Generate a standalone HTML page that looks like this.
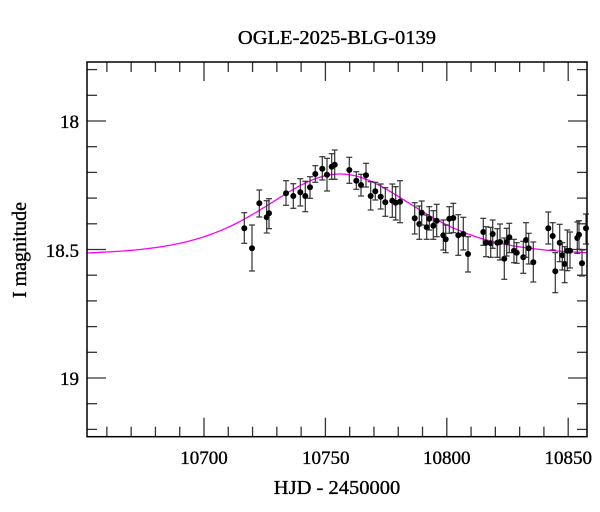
<!DOCTYPE html>
<html><head><meta charset="utf-8"><style>
html,body{margin:0;padding:0;background:#fff;}
svg{display:block;font-family:"Liberation Serif",serif;}
text{stroke:#000;stroke-width:0.35;}
</style></head><body>
<svg id="s" width="600" height="512" xmlns="http://www.w3.org/2000/svg">
<rect width="600" height="512" fill="#fff"/>
<text x="337" y="44" font-size="20.5" text-anchor="middle">OGLE-2025-BLG-0139</text>
<g id="ticks" stroke="#333" stroke-width="1.3"></g>
<path id="curve" fill="none" stroke="#ff00ff" stroke-width="1.3"/>
<g id="pts"></g>
<rect x="87" y="62" width="500" height="374.7" fill="none" stroke="#000" stroke-width="1.5"/>
<g font-size="19" text-anchor="end">
<text x="79" y="128">18</text>
<text x="79" y="257">18.5</text>
<text x="79" y="385">19</text>
</g>
<g font-size="19" text-anchor="middle">
<text x="204" y="464">10700</text>
<text x="325.7" y="464">10750</text>
<text x="446.7" y="464">10800</text>
<text x="568.3" y="464">10850</text>
<text x="337" y="494" font-size="20.5">HJD - 2450000</text>
</g>
<text font-size="20" text-anchor="middle" transform="translate(26,250) rotate(-90)">I magnitude</text>
<script>
var NS="http://www.w3.org/2000/svg";
function L(g,x1,y1,x2,y2,c,w){var l=document.createElementNS(NS,"line");l.setAttribute("x1",x1);l.setAttribute("y1",y1);l.setAttribute("x2",x2);l.setAttribute("y2",y2);if(c)l.setAttribute("stroke",c);if(w)l.setAttribute("stroke-width",w);g.appendChild(l);}
var T=document.getElementById("ticks");
for(var i=-4;i<=15;i++){var x=204+i*24.28;if(x<88||x>586)continue;var len=(i%5==0)?19:10;L(T,x,436.7,x,436.7-len);L(T,x,62,x,62+len);}
for(var j=-2;j<=12;j++){var y=121+j*25.7;if(y<63||y>436)continue;var len=(j%5==0)?19:10;L(T,87,y,87+len,y);L(T,587,y,587-len,y);}
var d="";for(var x=87;x<=587;x+=2){var dx=(x-340)/190;var y=255-81/Math.pow(1+dx*dx,3.6);d+=(x==87?"M":"L")+x+" "+y.toFixed(1);}
document.getElementById("curve").setAttribute("d",d);
var P=[[244.3,228.3,212.7,243.3],[252,248.3,225,271],[259.3,203.3,190,217],[266.7,217.3,200.7,233],[269,213.3,198.7,228.7],[286,193.3,180.7,205.3],[293.3,196,183.7,208.3],[300.3,192.3,178.7,206],[305.3,196,181.3,211.7],[310,187.3,176.7,198.3],[315.3,174,165.7,182.3],[322.3,168.7,156.7,180],[327,174.7,158.3,191],[331.7,166.7,153.7,179.3],[334.7,164.7,150,179.3],[349.3,170,157.3,183.3],[356.3,180.7,171.7,189.3],[361,185,174.3,196],[366,175.3,163.3,187],[370.7,196,181.7,210],[375.3,191.3,182.3,200],[380.7,196.7,184,209],[385.3,202.3,187.7,216.3],[392.3,200.7,184,217.3],[395.7,202.7,186.7,220],[400,201.7,180.7,222.7],
[414.7,218.3,202.7,234],[419.3,224,206,239.3],[421.7,212.7,201,225],[426.7,227.3,215,239.3],[429.3,218.7,206.7,230],[433.3,225.7,210.7,239.3],[436.7,220.7,204.3,236.7],[443.3,235.3,220,250],[445.7,239.3,225,252.7],[449.3,218.7,206.7,233.3],[453.3,218,203.3,232.7],[458.3,235.3,214.7,255.3],[463.3,234,217.3,250],[468,254,236.7,272],[483.3,232,218.3,245.3],[486,242.7,226.7,256.7],[490.7,243.3,227.3,257.3],[492.7,234,220,248.3],[497.3,242.7,228.7,257.3],[500,242,224,260],[504.3,258.7,238,279.3],[506.7,242,228.3,256],[509.3,237.3,223.3,252.7],[514,250.7,239.3,262.7],[516.7,252.7,242.7,263.3],[523.3,257.3,241.3,273.3],[526,240,222.7,257.3],[528.7,248.3,233.3,264],[533.3,262.3,242,282],[548.3,228.3,212,244],[552.7,236,222.7,250],[555.3,271.3,252.7,292.7],[559.7,242.7,224.3,261.7],[562.3,255.3,242.7,270],[564.7,264,246.7,282.7],[567.3,250.7,230,270.7],[570,250.7,232,268],[577.3,238,222,253.3],[579,234.7,220.7,249.3],[582,263.3,250,276],[586,228.3,214,244]];
var G=document.getElementById("pts");
P.forEach(function(p){L(G,p[0],p[2],p[0],p[3],"#333",1.2);L(G,p[0]-3,p[2],p[0]+3,p[2],"#333",1.2);L(G,p[0]-3,p[3],p[0]+3,p[3],"#333",1.2);var c=document.createElementNS(NS,"circle");c.setAttribute("cx",p[0]);c.setAttribute("cy",p[1]);c.setAttribute("r",3);c.setAttribute("fill","#000");G.appendChild(c);});
</script>
</svg>
</body></html>
